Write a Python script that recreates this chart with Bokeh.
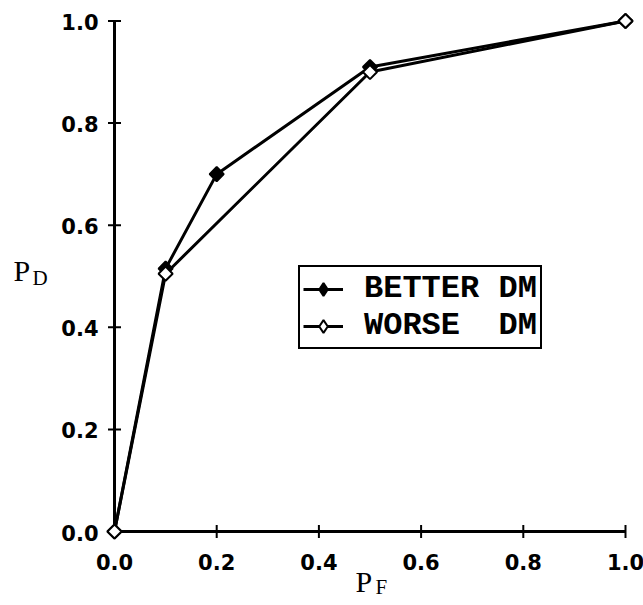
import numpy as np
from bokeh.plotting import figure
from bokeh.models import Range1d, Label, Legend, LegendItem
from bokeh.embed import file_html
from bokeh.resources import INLINE

# data
better_pf = [0.0, 0.1, 0.2, 0.5, 1.0]
better_pd = [0.0, 0.515, 0.70, 0.91, 1.0]
worse_pf = [0.0, 0.1, 0.5, 1.0]
worse_pd = [0.0, 0.505, 0.90, 1.0]
ticks = [0.0, 0.2, 0.4, 0.6, 0.8, 1.0]
tick_labels = ["0.0", "0.2", "0.4", "0.6", "0.8", "1.0"]
series_names = ["BETTER DM", "WORSE  DM"]

W, H = 643, 605
# pixel placement of the data square (0..1) inside the canvas
X0, X1 = 114.0, 625.0
Y0, Y1 = 531.0, 20.5
sx = (X1 - X0)
sy = (Y0 - Y1)

p = figure(width=W, height=H, output_backend="svg", toolbar_location=None, title=None,
           x_axis_type=None, y_axis_type=None,
           x_range=Range1d(-X0 / sx, 1 + (W - X1) / sx),
           y_range=Range1d(-(H - Y0) / sy, 1 + Y1 / sy),
           min_border=0, min_border_left=0, min_border_right=0,
           min_border_top=0, min_border_bottom=0)
p.outline_line_color = None
p.grid.visible = False
p.background_fill_color = "white"
p.border_fill_color = "white"

lo, hi = ticks[0], ticks[-1]
zeros = [lo] * len(ticks)

# axes lines
p.segment(x0=[lo, lo], y0=[lo, lo], x1=[hi, lo], y1=[lo, hi], line_color="black", line_width=3)
# tick marks (crossing the axis)
p.scatter(x=zeros, y=ticks, marker="dash", size=13, line_color="black", line_width=2)
p.scatter(x=ticks, y=zeros, marker="dash", angle=np.pi / 2, size=13, line_color="black", line_width=2)
# tick labels
p.text(x=zeros, y=ticks, text=tick_labels, x_offset=-16, y_offset=1,
       text_align="right", text_baseline="alphabetic",
       text_font={"value": "DejaVu Sans"}, text_font_style="bold",
       text_font_size="21px", text_color="black")
p.text(x=ticks, y=zeros, text=tick_labels, x_offset=0, y_offset=30,
       text_align="center", text_baseline="alphabetic",
       text_font={"value": "DejaVu Sans"}, text_font_style="bold",
       text_font_size="21px", text_color="black")

# series
lb = p.line(better_pf, better_pd, line_color="black", line_width=3)
p.scatter(better_pf, better_pd, marker="square", angle=np.pi / 4, size=10,
          fill_color="black", line_color="black", line_width=2)
lw = p.line(worse_pf, worse_pd, line_color="black", line_width=3)
p.scatter(worse_pf, worse_pd, marker="square", angle=np.pi / 4, size=10,
          fill_color="white", line_color="black", line_width=2)

# legend-only diamond glyphs (drawn at zero size in the plot)
db = p.scatter(better_pf, better_pd, marker="diamond", size=0,
               fill_color="black", line_color="black", line_width=2)
dw = p.scatter(worse_pf, worse_pd, marker="diamond", size=0,
               fill_color="white", line_color="black", line_width=2)

legend = Legend(items=[LegendItem(label=series_names[0], renderers=[lb, db]),
                       LegendItem(label=series_names[1], renderers=[lw, dw])],
                location=(298, H - 349), glyph_width=40, glyph_height=32,
                label_text_font="Liberation Mono", label_text_font_style="bold",
                label_text_font_size="32px", label_text_color="black",
                label_standoff=21, label_height=32,
                border_line_color="black", border_line_width=2, border_line_alpha=1,
                padding=3, spacing=0, margin=0, background_fill_alpha=1)
p.add_layout(legend, "center")


def add_label(x, y, t, size):
    p.add_layout(Label(x=x, y=y, x_units="screen", y_units="screen", text=t,
                       text_font="Liberation Serif", text_font_size=size,
                       text_color="black", text_baseline="alphabetic", text_align="left"))


add_label(13, H - 270, "P", "30px")
add_label(32, H - 277, "D", "21px")
add_label(355, H - 581, "P", "30px")
add_label(375, H - 586, "F", "21px")

open("out.html", "w").write(file_html(p, INLINE))
